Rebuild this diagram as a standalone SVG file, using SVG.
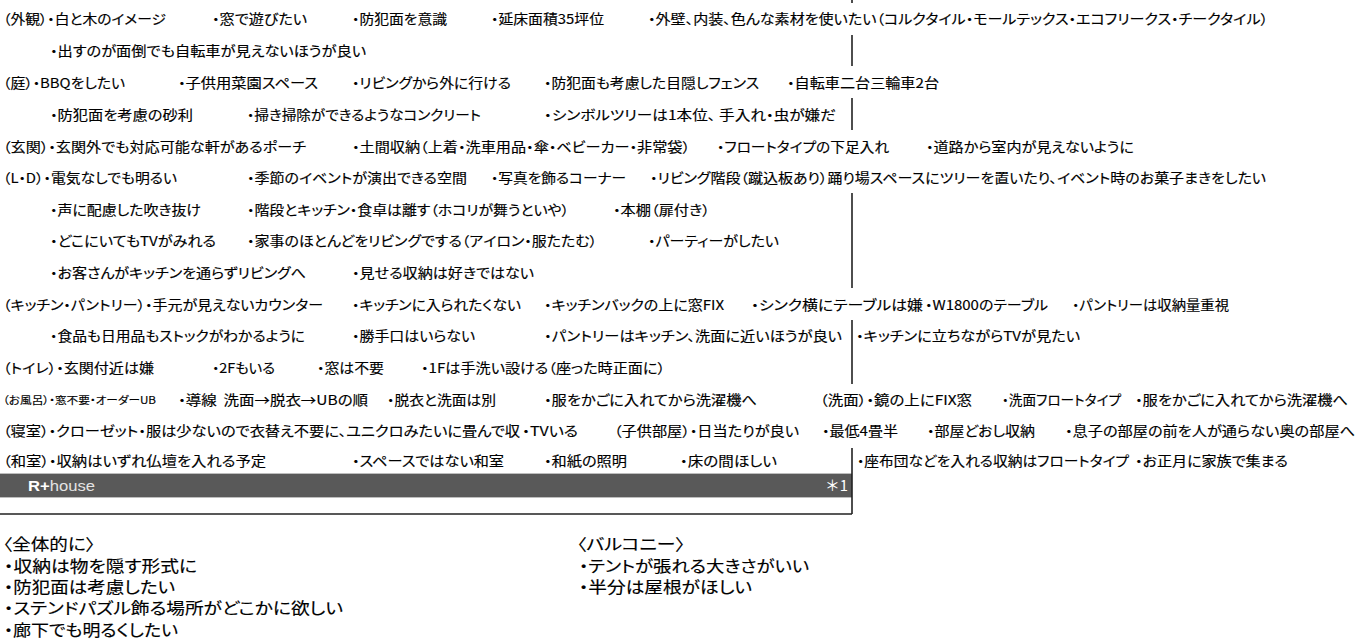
<svg xmlns="http://www.w3.org/2000/svg" width="1360" height="640" viewBox="0 0 1360 640">
<style>
text{font-family:"Noto Sans CJK JP","Noto Sans",sans-serif;font-feature-settings:"palt";fill:#000;stroke:#000;stroke-width:.15;white-space:pre}
.t{font-size:13.5px}
.s{font-size:10.5px}
.b{font-size:16px}
.r{font-family:"Liberation Sans","Noto Sans CJK JP",sans-serif;font-size:15px;fill:#fff;stroke:none}
.l{stroke:#222;stroke-width:1.6;fill:none}
</style>
<rect width="1360" height="640" fill="#fff"/>
<g id="frame">
<rect x="0" y="474" width="852" height="23" fill="#595959"/>
<path d="M0 473.5H852M0 497.5H852" stroke="#bdbdbd" stroke-width="1" fill="none"/>
<path class="l" d="M852 0V3M852 35V66M852 98V130M852 193V288M852 320V384M852 448V514M0 514H852"/>
<text class="r" x="28" y="491" textLength="67" lengthAdjust="spacingAndGlyphs"><tspan font-weight="bold">R+</tspan><tspan fill="#e4e4e4">house</tspan></text>
<text class="r" style="font-family:'Noto Sans CJK JP',sans-serif;font-feature-settings:normal" x="825" y="491" textLength="23" lengthAdjust="spacingAndGlyphs">＊1</text>
</g>
<g id="list" class="t">
<text class="t" lengthAdjust="spacingAndGlyphs" x="3" y="24" textLength="163">（外観）・白と木のイメージ</text>
<text class="t" lengthAdjust="spacingAndGlyphs" x="212" y="24" textLength="95">・窓で遊びたい</text>
<text class="t" lengthAdjust="spacingAndGlyphs" x="352" y="24" textLength="95">・防犯面を意識</text>
<text class="t" lengthAdjust="spacingAndGlyphs" x="491" y="24" textLength="113">・延床面積35坪位</text>
<text class="t" lengthAdjust="spacingAndGlyphs" x="648" y="24" textLength="620">・外壁、内装、色んな素材を使いたい（コルクタイル・モールテックス・エコフリークス・チークタイル）</text>
<text class="t" lengthAdjust="spacingAndGlyphs" x="50" y="56" textLength="316">・出すのが面倒でも自転車が見えないほうが良い</text>
<text class="t" lengthAdjust="spacingAndGlyphs" x="3" y="88" textLength="122">（庭）・BBQをしたい</text>
<text class="t" lengthAdjust="spacingAndGlyphs" x="178" y="88" textLength="140">・子供用菜園スペース</text>
<text class="t" lengthAdjust="spacingAndGlyphs" x="352" y="88" textLength="159">・リビングから外に行ける</text>
<text class="t" lengthAdjust="spacingAndGlyphs" x="544" y="88" textLength="215">・防犯面も考慮した目隠しフェンス</text>
<text class="t" lengthAdjust="spacingAndGlyphs" x="787" y="88" textLength="152">・自転車二台三輪車2台</text>
<text class="t" lengthAdjust="spacingAndGlyphs" x="50" y="120" textLength="143">・防犯面を考慮の砂利</text>
<text class="t" lengthAdjust="spacingAndGlyphs" x="247" y="120" textLength="234">・掃き掃除ができるようなコンクリート</text>
<text class="t" lengthAdjust="spacingAndGlyphs" x="544" y="120" textLength="292">・シンボルツリーは1本位、 手入れ・虫が嫌だ</text>
<text class="t" lengthAdjust="spacingAndGlyphs" x="3" y="152" textLength="303">（玄関）・玄関外でも対応可能な軒があるポーチ</text>
<text class="t" lengthAdjust="spacingAndGlyphs" x="352" y="152" textLength="338">・土間収納（上着・洗車用品・傘・ベビーカー・非常袋）</text>
<text class="t" lengthAdjust="spacingAndGlyphs" x="717" y="152" textLength="172">・フロートタイプの下足入れ</text>
<text class="t" lengthAdjust="spacingAndGlyphs" x="926" y="152" textLength="208">・道路から室内が見えないように</text>
<text class="t" lengthAdjust="spacingAndGlyphs" x="3" y="183" textLength="174">（L・D）・電気なしでも明るい</text>
<text class="t" lengthAdjust="spacingAndGlyphs" x="247" y="183" textLength="220">・季節のイベントが演出できる空間</text>
<text class="t" lengthAdjust="spacingAndGlyphs" x="491" y="183" textLength="135">・写真を飾るコーナー</text>
<text class="t" lengthAdjust="spacingAndGlyphs" x="650" y="183" textLength="616">・リビング階段（蹴込板あり）踊り場スペースにツリーを置いたり、イベント時のお菓子まきをしたい</text>
<text class="t" lengthAdjust="spacingAndGlyphs" x="50" y="215" textLength="151">・声に配慮した吹き抜け</text>
<text class="t" lengthAdjust="spacingAndGlyphs" x="247" y="215" textLength="322">・階段とキッチン・食卓は離す（ホコリが舞うといや）</text>
<text class="t" lengthAdjust="spacingAndGlyphs" x="613" y="215" textLength="97">・本棚（扉付き）</text>
<text class="t" lengthAdjust="spacingAndGlyphs" x="50" y="246" textLength="166">・どこにいてもTVがみれる</text>
<text class="t" lengthAdjust="spacingAndGlyphs" x="247" y="246" textLength="350">・家事のほとんどをリビングでする（アイロン・服たたむ）</text>
<text class="t" lengthAdjust="spacingAndGlyphs" x="648" y="246" textLength="131">・パーティーがしたい</text>
<text class="t" lengthAdjust="spacingAndGlyphs" x="50" y="278" textLength="256">・お客さんがキッチンを通らずリビングへ</text>
<text class="t" lengthAdjust="spacingAndGlyphs" x="352" y="278" textLength="182">・見せる収納は好きではない</text>
<text class="t" lengthAdjust="spacingAndGlyphs" x="3" y="310" textLength="320">（キッチン・パントリー）・手元が見えないカウンター</text>
<text class="t" lengthAdjust="spacingAndGlyphs" x="352" y="310" textLength="169">・キッチンに入られたくない</text>
<text class="t" lengthAdjust="spacingAndGlyphs" x="544" y="310" textLength="180">・キッチンバックの上に窓FIX</text>
<text class="t" lengthAdjust="spacingAndGlyphs" x="751" y="310" textLength="172">・シンク横にテーブルは嫌</text>
<text class="t" lengthAdjust="spacingAndGlyphs" x="925" y="310" textLength="123">・W1800のテーブル</text>
<text class="t" lengthAdjust="spacingAndGlyphs" x="1072" y="310" textLength="157">・パントリーは収納量重視</text>
<text class="t" lengthAdjust="spacingAndGlyphs" x="50" y="341" textLength="255">・食品も日用品もストックがわかるように</text>
<text class="t" lengthAdjust="spacingAndGlyphs" x="352" y="341" textLength="123">・勝手口はいらない</text>
<text class="t" lengthAdjust="spacingAndGlyphs" x="544" y="341" textLength="298">・パントリーはキッチン、洗面に近いほうが良い</text>
<text class="t" lengthAdjust="spacingAndGlyphs" x="856" y="341" textLength="224">・キッチンに立ちながらTVが見たい</text>
<text class="t" lengthAdjust="spacingAndGlyphs" x="3" y="373" textLength="151">（トイレ）・玄関付近は嫌</text>
<text class="t" lengthAdjust="spacingAndGlyphs" x="212" y="373" textLength="63">・2Fもいる</text>
<text class="t" lengthAdjust="spacingAndGlyphs" x="317" y="373" textLength="67">・窓は不要</text>
<text class="t" lengthAdjust="spacingAndGlyphs" x="421" y="373" textLength="244">・1Fは手洗い設ける（座った時正面に）</text>
<text class="s" lengthAdjust="spacingAndGlyphs" x="3" y="404" textLength="153">（お風呂）・窓不要・オーダーUB</text>
<text class="t" lengthAdjust="spacingAndGlyphs" x="178" y="405" textLength="190">・導線  洗面→脱衣→UBの順</text>
<text class="t" lengthAdjust="spacingAndGlyphs" x="387" y="405" textLength="109">・脱衣と洗面は別</text>
<text class="t" lengthAdjust="spacingAndGlyphs" x="544" y="405" textLength="213">・服をかごに入れてから洗濯機へ</text>
<text class="t" lengthAdjust="spacingAndGlyphs" x="820" y="405" textLength="152">（洗面）・鏡の上にFIX窓</text>
<text class="t" lengthAdjust="spacingAndGlyphs" x="1002" y="405" textLength="119">・洗面フロートタイプ</text>
<text class="t" lengthAdjust="spacingAndGlyphs" x="1135" y="405" textLength="213">・服をかごに入れてから洗濯機へ</text>
<text class="t" lengthAdjust="spacingAndGlyphs" x="3" y="436" textLength="517">（寝室）・クローゼット・服は少ないので衣替え不要に、ユニクロみたいに畳んで収</text>
<text class="t" lengthAdjust="spacingAndGlyphs" x="522" y="436" textLength="56">・TVいる</text>
<text class="t" lengthAdjust="spacingAndGlyphs" x="614" y="436" textLength="185">（子供部屋）・日当たりが良い</text>
<text class="t" lengthAdjust="spacingAndGlyphs" x="822" y="436" textLength="76">・最低4畳半</text>
<text class="t" lengthAdjust="spacingAndGlyphs" x="927" y="436" textLength="108">・部屋どおし収納</text>
<text class="t" lengthAdjust="spacingAndGlyphs" x="1065" y="436" textLength="290">・息子の部屋の前を人が通らない奥の部屋へ</text>
<text class="t" lengthAdjust="spacingAndGlyphs" x="3" y="466" textLength="263">（和室）・収納はいずれ仏壇を入れる予定</text>
<text class="t" lengthAdjust="spacingAndGlyphs" x="352" y="466" textLength="152">・スペースではない和室</text>
<text class="t" lengthAdjust="spacingAndGlyphs" x="544" y="466" textLength="83">・和紙の照明</text>
<text class="t" lengthAdjust="spacingAndGlyphs" x="680" y="466" textLength="97">・床の間ほしい</text>
<text class="t" lengthAdjust="spacingAndGlyphs" x="857" y="466" textLength="272">・座布団などを入れる収納はフロートタイプ</text>
<text class="t" lengthAdjust="spacingAndGlyphs" x="1135" y="466" textLength="153">・お正月に家族で集まる</text>
</g>
<g id="overall">
<text class="b" lengthAdjust="spacingAndGlyphs" x="3" y="550" textLength="92">〈全体的に〉</text>
<text class="b" lengthAdjust="spacingAndGlyphs" x="4" y="572" textLength="193">・収納は物を隠す形式に</text>
<text class="b" lengthAdjust="spacingAndGlyphs" x="4" y="593" textLength="171">・防犯面は考慮したい</text>
<text class="b" lengthAdjust="spacingAndGlyphs" x="4" y="614" textLength="339">・ステンドパズル飾る場所がどこかに欲しい</text>
<text class="b" lengthAdjust="spacingAndGlyphs" x="4" y="636" textLength="174">・廊下でも明るくしたい</text>
</g>
<g id="balcony">
<text class="b" lengthAdjust="spacingAndGlyphs" x="577" y="550" textLength="108">〈バルコニー〉</text>
<text class="b" lengthAdjust="spacingAndGlyphs" x="579" y="572" textLength="230">・テントが張れる大きさがいい</text>
<text class="b" lengthAdjust="spacingAndGlyphs" x="579" y="593" textLength="173">・半分は屋根がほしい</text>
</g>
</svg>
